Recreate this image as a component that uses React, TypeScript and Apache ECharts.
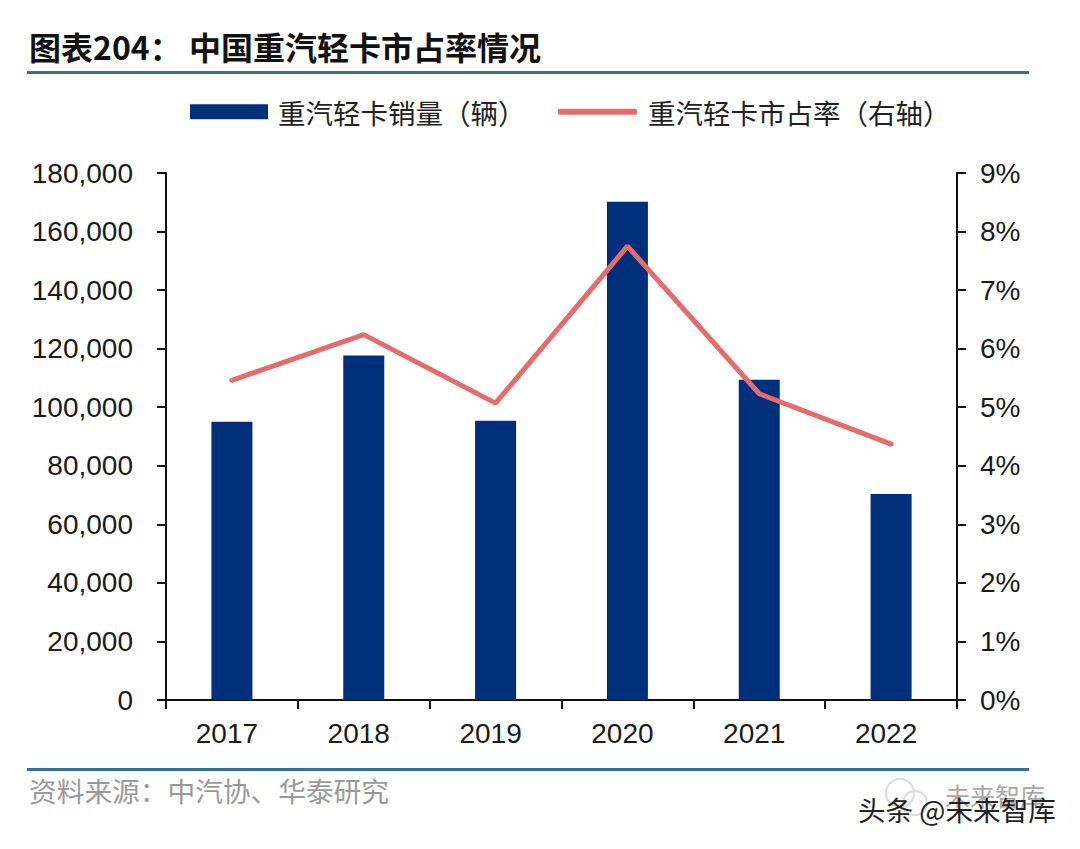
import React, { useEffect, useRef } from "react";
import * as echarts from "echarts";

const categories = ["2017", "2018", "2019", "2020", "2021", "2022"];
const salesValues = [95000, 117700, 95400, 170200, 109400, 70400];
const shareValues = [5.46, 6.24, 5.07, 7.75, 5.23, 4.37];
const salesName = "重汽轻卡销量（辆）";
const shareName = "重汽轻卡市占率（右轴）";
const titleLabel = "图表204：";
const titleText = "中国重汽轻卡市占率情况";
const sourceText = "资料来源：中汽协、华泰研究";
const watermarkMain = "头条 @未来智库";
const watermarkBack = "未来智库";

const SANS = '"Liberation Sans", Arial, sans-serif';
const CJK = '"Noto Sans CJK SC", sans-serif';
const NAVY = "#002F7C";
const RED = "#E66B6C";
const RULE = "#2F7199";

export default function App() {
  const ref = useRef<HTMLDivElement>(null);
  useEffect(() => {
    const chart = echarts.init(ref.current!, undefined, { renderer: "svg" });
    const axisLine = { show: true, lineStyle: { color: "#111", width: 2 } };
    const axisTick = { show: true, length: 9, lineStyle: { color: "#111", width: 2 } };
    const axisLabelBase = { color: "#1a1a1a", fontSize: 28, fontFamily: SANS };
    const legendText = { color: "#222", fontSize: 27.5, fontFamily: CJK };
    chart.setOption({
      animation: false,
      backgroundColor: "#fff",
      grid: { left: 166, right: 123, top: 173, bottom: 149, containLabel: false },
      legend: [
        {
          left: 185,
          top: 93,
          itemWidth: 78,
          itemHeight: 15,
          itemGap: 0,
          textStyle: { ...legendText, padding: [0, 0, 0, 5] },
          data: [{ name: salesName, icon: "rect" }],
        },
        {
          left: 553,
          top: 93,
          itemWidth: 79,
          itemHeight: 6,
          itemGap: 0,
          textStyle: { ...legendText, padding: [0, 0, 0, 6] },
          data: [{ name: shareName, icon: "roundRect" }],
        },
      ],
      xAxis: {
        type: "category",
        data: categories,
        axisLine,
        axisTick: { ...axisTick, alignWithLabel: false },
        axisLabel: { ...axisLabelBase, margin: 19, padding: [0, 10, 0, 0] },
      },
      yAxis: [
        {
          type: "value",
          min: 0,
          max: 180000,
          interval: 20000,
          axisLine,
          axisTick,
          splitLine: { show: false },
          axisLabel: {
            ...axisLabelBase,
            margin: 33,
            formatter: (v: number) => v.toLocaleString("en-US"),
          },
        },
        {
          type: "value",
          position: "right",
          min: 0,
          max: 9,
          interval: 1,
          axisLine,
          axisTick,
          splitLine: { show: false },
          axisLabel: { ...axisLabelBase, margin: 23, formatter: "{value}%" },
        },
      ],
      series: [
        {
          name: salesName,
          type: "bar",
          data: salesValues,
          barWidth: 41,
          itemStyle: { color: NAVY },
        },
        {
          name: shareName,
          type: "line",
          yAxisIndex: 1,
          data: shareValues,
          symbol: "none",
          lineStyle: { color: RED, width: 5, cap: "round" },
          itemStyle: { color: RED },
        },
      ],
      graphic: [
        { type: "rect", shape: { x: 27, y: 71, width: 1002, height: 3 }, style: { fill: RULE } },
        { type: "rect", shape: { x: 27, y: 768, width: 1002, height: 3 }, style: { fill: RULE } },
        { type: "text", x: 29, y: 30, style: { text: titleLabel, fill: "#111", font: `bold 32px ${CJK}` } },
        { type: "text", x: 189, y: 30, style: { text: titleText, fill: "#111", font: `bold 32px ${CJK}` } },
        { type: "text", x: 29, y: 776, style: { text: sourceText, fill: "#9a9a9a", font: `27.7px ${CJK}` } },
        { type: "circle", shape: { cx: 900, cy: 793, r: 14 }, style: { fill: "none", stroke: "#dcdcdc", lineWidth: 2 } },
        { type: "circle", shape: { cx: 915, cy: 803, r: 12 }, style: { fill: "none", stroke: "#dcdcdc", lineWidth: 2 } },
        { type: "text", x: 945, y: 782, style: { text: watermarkBack, fill: "#a8a8a8", font: `25px ${CJK}` } },
        { type: "text", x: 858, y: 795, style: { text: watermarkMain, fill: "#222", font: `27.6px ${CJK}` } },
      ],
    });
    return () => chart.dispose();
  }, []);
  return (
    <div style={{ position: "absolute", left: 0, top: 0 }}>
      <div ref={ref} style={{ width: 1080, height: 849 }} />
    </div>
  );
}
